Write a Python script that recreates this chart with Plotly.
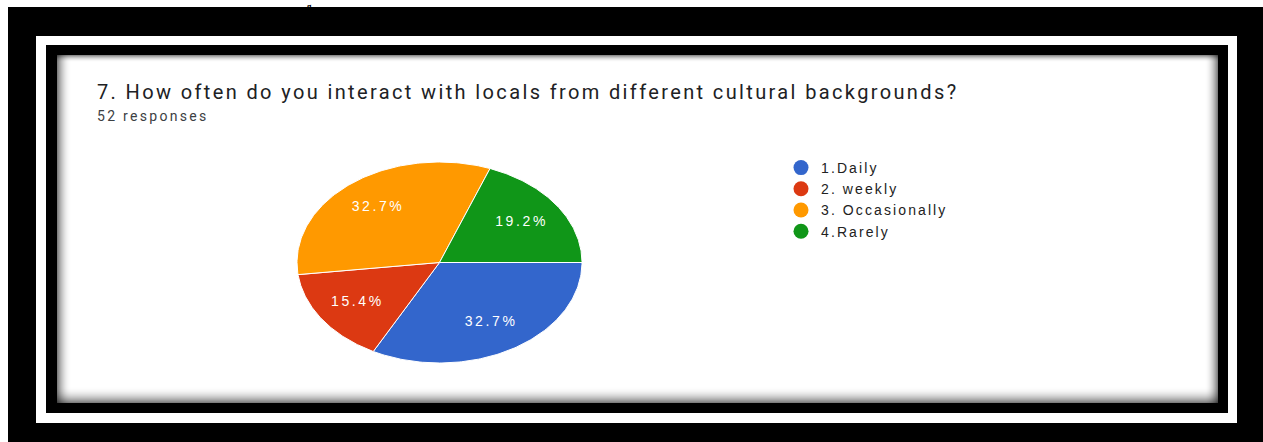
import numpy as np
import plotly.graph_objects as go

W, H = 1263, 442

# ---- data ----
labels = ["1.Daily", "2. weekly", "3. Occasionally", "4.Rarely"]
counts = [17, 8, 17, 10]
colors = ["#3366cc", "#dc3912", "#ff9900", "#109618"]
title_text = "7. How often do you interact with locals from different cultural backgrounds?"
subtitle_text = "52 responses"
top_fragment = "g"
start_angle = 90.0  # degrees, clockwise from 12 o'clock


def px(x):
    return x / W


def py(y):
    return 1 - y / H


def spaced(t, ls):
    return f"<span style='letter-spacing:{ls}px'>{t}</span>"


fig = go.Figure()

total = float(sum(counts))
fracs = [c / total for c in counts]
a0 = start_angle
for lab, c, f, col in zip(labels, counts, fracs, colors):
    a1 = a0 + 360.0 * f
    t = np.radians(np.linspace(a0, a1, 120))
    xs = np.concatenate([[0], np.sin(t), [0]])
    ys = np.concatenate([[0], np.cos(t), [0]])
    fig.add_trace(go.Scatter(
        x=xs, y=ys, mode="lines", fill="toself", fillcolor=col,
        line=dict(color="white", width=1), showlegend=False,
        hoverinfo="text", text=f"{lab}: {c}",
    ))
    a0 = a1

# percentage labels
a0 = start_angle
lx, ly, lt = [], [], []
for f in fracs:
    mid = np.radians(a0 + 180.0 * f)
    lx.append(0.7 * np.sin(mid))
    ly.append(0.7 * np.cos(mid))
    lt.append(spaced(f"{100 * f:.1f}%", 2.6))
    a0 += 360.0 * f
fig.add_trace(go.Scatter(
    x=lx, y=ly, mode="text", text=lt, showlegend=False, hoverinfo="skip",
    textfont=dict(family="Liberation Sans, Arial", size=14, color="white"),
))

# legend entries
for lab, col in zip(labels, colors):
    fig.add_trace(go.Scatter(
        x=[None], y=[None], mode="markers", name=spaced(lab, 2.1),
        marker=dict(size=15, color=col, symbol="circle"),
    ))

shapes = []


def rect(x0, y0, x1, y1, color):
    shapes.append(dict(type="rect", xref="paper", yref="paper",
                       x0=px(x0), x1=px(x1), y0=py(y1), y1=py(y0),
                       fillcolor=color, line=dict(width=0), layer="below"))


def hline(x0, x1, y, color):
    shapes.append(dict(type="line", xref="paper", yref="paper",
                       x0=px(x0), x1=px(x1), y0=py(y), y1=py(y),
                       line=dict(color=color, width=1), layer="below"))


def vline(x, y0, y1, color):
    shapes.append(dict(type="line", xref="paper", yref="paper",
                       x0=px(x), x1=px(x), y0=py(y0), y1=py(y1),
                       line=dict(color=color, width=1), layer="below"))


# page bits
rect(0, 0, W, 7, "white")
rect(0, 0, 8, H, "white")
# outer white frame, black band, inner card
rect(36, 36, 1237, 423, "white")
rect(46, 45, 1228, 413, "black")
rect(57, 55, 1218, 403, "white")

# inner shadow on the card
X0, Y0, X1, Y1 = 57, 55, 1218, 403
for k in range(16):
    a = 0.5 * (1 - k / 16) ** 2
    hline(X0, X1, Y1 - k - 0.5, f"rgba(0,0,0,{a:.3f})")
for k in range(14):
    a = 0.5 * (1 - k / 14) ** 2
    vline(X0 + k + 0.5, Y0, Y1, f"rgba(0,0,0,{a:.3f})")
for k in range(13):
    a = 0.5 * (1 - k / 13) ** 2
    vline(X1 - k - 0.5, Y0, Y1, f"rgba(0,0,0,{a:.3f})")
for k in range(7):
    a = 0.45 * (1 - k / 7) ** 2
    hline(X0, X1, Y0 + k + 0.5, f"rgba(0,0,0,{a:.3f})")

annotations = [
    dict(text=spaced(title_text, 2.37), xref="paper", yref="paper",
         x=px(95), y=py(92), xanchor="left", yanchor="middle", showarrow=False,
         font=dict(family="Roboto", size=20, color="#202124")),
    dict(text=spaced(subtitle_text, 2.3), xref="paper", yref="paper",
         x=px(95), y=py(116), xanchor="left", yanchor="middle", showarrow=False,
         font=dict(family="Roboto", size=14, color="#3c4043")),
    dict(text=top_fragment, xref="paper", yref="paper",
         x=px(309), y=1, xanchor="center", yanchor="top", showarrow=False,
         borderpad=0,
         font=dict(family="Liberation Serif", size=9, color="black", weight="bold")),
]

fig.update_layout(
    width=W, height=H, margin=dict(l=0, r=0, t=0, b=0),
    paper_bgcolor="black", plot_bgcolor="rgba(0,0,0,0)",
    shapes=shapes, annotations=annotations,
    xaxis=dict(domain=[px(297), px(582)], range=[-1, 1], visible=False, fixedrange=True),
    yaxis=dict(domain=[py(363), py(162)], range=[-1, 1], visible=False, fixedrange=True),
    legend=dict(x=px(781), y=py(152), xanchor="left", yanchor="top",
                bgcolor="rgba(0,0,0,0)",
                font=dict(family="Liberation Sans, Arial", size=14, color="#222222")),
    showlegend=True,
)

fig.write_html("out.html")
